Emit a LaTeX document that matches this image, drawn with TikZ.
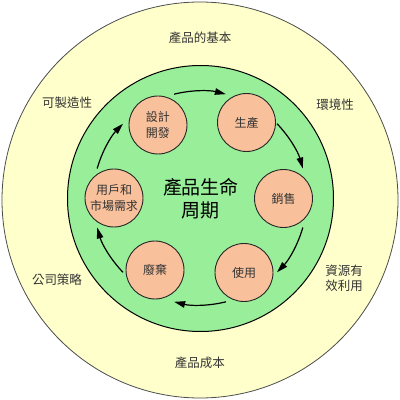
\documentclass[tikz,border=0pt]{standalone}
\usepackage{fontspec}
\setmainfont{Noto Sans CJK TC}
\usetikzlibrary{arrows.meta,calc}
\definecolor{outery}{HTML}{FFFFCC}
\definecolor{ringg}{HTML}{99EE99}
\definecolor{peach}{HTML}{F8C19B}
\definecolor{txt}{HTML}{333333}
\begin{document}
\begin{tikzpicture}[x=1pt,y=1pt,
  stage/.style={circle,draw=black!85,line width=0.9pt,fill=peach,minimum size=58pt,inner sep=0pt,align=center,font=\fontsize{12}{15.5}\selectfont,text=txt},
  factor/.style={align=center,font=\fontsize{12.5}{15}\selectfont,text=txt,inner sep=0pt},
  cyc/.style={line width=1.2pt,-{Triangle[length=11pt,width=6.5pt]}}]
\useasboundingbox (0,0) rectangle (400,400);
\node[circle,draw=black!70,fill=outery,line width=0.8pt,minimum size=396pt,inner sep=0pt] (outer) at (200,200) {};
\node[circle,draw=black,fill=ringg,line width=1pt,minimum size=266pt,inner sep=0pt] (ring) at (200.5,201.5) {};
\coordinate (O) at (200,202);
\node[stage] (A) at (158,275) {設計\\開發};
\node[stage] (B) at (246.5,277.5) {生產};
\node[stage] (C) at (283.5,201.5) {銷售};
\node[stage] (D) at (244,127.5) {使用};
\node[stage] (E) at (155,130) {廢棄};
\node[stage] (F) at (114,202) {用戶和\\市場需求};
\node[align=center,font=\fontsize{19}{23}\selectfont,inner sep=0pt] (title) at (201,201.5) {產品生命\\周期};
\foreach \m in {90,30,-30,-90,-150,150}
  \draw[cyc] ($(O)+(\m+14:107)$) arc[start angle=\m+14,end angle=\m-14,radius=107];
\node[factor] (f1) at (200,362) {產品的基本};
\node[factor] (f2) at (67,297) {可製造性};
\node[factor] (f3) at (335,295) {環境性};
\node[factor] (f4) at (57,120) {公司策略};
\node[factor] (f5) at (344,122) {資源有\\效利用};
\node[factor] (f6) at (200,37) {產品成本};
\end{tikzpicture}
\end{document}
